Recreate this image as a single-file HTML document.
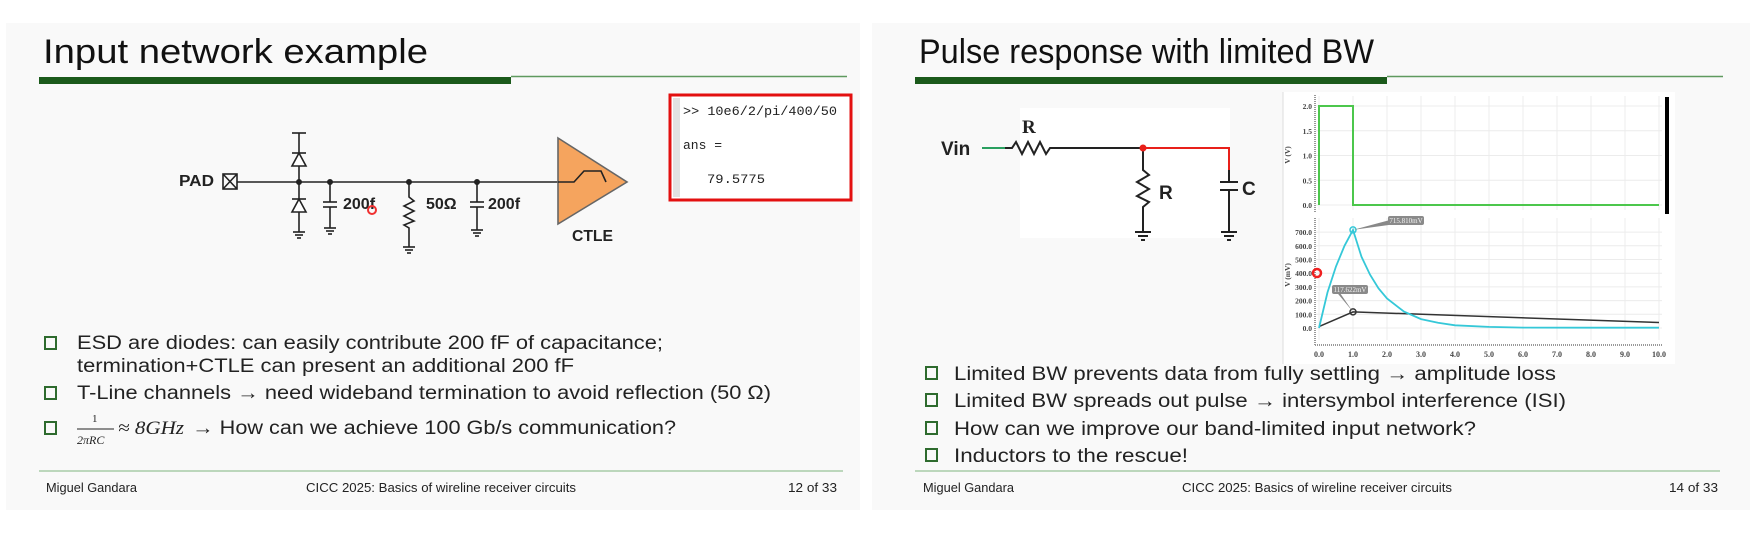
<!DOCTYPE html>
<html><head><meta charset="utf-8"><style>
html,body{margin:0;padding:0;background:#fff;}
svg{display:block;font-family:"Liberation Sans",sans-serif;}
</style></head><body>
<svg id="root" width="1754" height="552" viewBox="0 0 1754 552" xmlns="http://www.w3.org/2000/svg">
<rect x="6" y="23" width="854" height="487" fill="#f9f9f9"/>
<rect x="872" y="23" width="878" height="487" fill="#f9f9f9"/>

<!-- LEFT SLIDE -->
<text x="43" y="63" font-size="34" fill="#111" textLength="385" lengthAdjust="spacingAndGlyphs">Input network example</text>
<rect x="39" y="77" width="472" height="7" fill="#1b5a1b"/>
<line x1="511" y1="76.5" x2="847" y2="76.5" stroke="#5f9a5f" stroke-width="1.5"/>

<g>
<rect x="670" y="95" width="181" height="105" fill="#fff" stroke="#e31010" stroke-width="3"/>
<rect x="673" y="98" width="7" height="99" fill="#e2e2e2"/>
<g font-family="'Liberation Mono',monospace" font-size="13" fill="#222">
<text x="683" y="115" textLength="154" lengthAdjust="spacingAndGlyphs">&gt;&gt; 10e6/2/pi/400/50</text>
<text x="683" y="149">ans =</text>
<text x="707" y="183" textLength="58" lengthAdjust="spacingAndGlyphs">79.5775</text>
</g></g>

<g stroke="#222" stroke-width="1.6" fill="none">
<text x="179" y="186" font-size="16" font-weight="bold" fill="#222" stroke="none" textLength="35" lengthAdjust="spacingAndGlyphs">PAD</text>
<rect x="223" y="174" width="14" height="15"/>
<line x1="223" y1="174" x2="237" y2="189"/><line x1="237" y1="174" x2="223" y2="189"/>
<line x1="237" y1="182" x2="574" y2="182"/>
<line x1="292" y1="133" x2="306" y2="133"/>
<line x1="299" y1="133" x2="299" y2="232"/>
<line x1="292" y1="153" x2="306" y2="153"/>
<polygon points="299,153 292,166 306,166" fill="#fff"/>
<line x1="292" y1="199" x2="306" y2="199"/>
<polygon points="299,199 292,212 306,212" fill="#fff"/>
<line x1="293" y1="232" x2="305" y2="232"/><line x1="295" y1="235" x2="303" y2="235"/><line x1="297" y1="238" x2="301" y2="238"/>
<line x1="330" y1="182" x2="330" y2="202"/><line x1="323" y1="202" x2="337" y2="202"/><line x1="323" y1="207" x2="337" y2="207"/><line x1="330" y1="207" x2="330" y2="228"/>
<line x1="324" y1="228" x2="336" y2="228"/><line x1="326" y1="231" x2="334" y2="231"/><line x1="328" y1="234" x2="332" y2="234"/>
<text x="343" y="209" font-size="16" font-weight="bold" fill="#222" stroke="none">200f</text>
<polyline points="409,182 409,197 414,201 404,206 414,211 404,216 414,221 404,225 409,228 409,247"/>
<line x1="403" y1="247" x2="415" y2="247"/><line x1="405" y1="250" x2="413" y2="250"/><line x1="407" y1="253" x2="411" y2="253"/>
<text x="426" y="209" font-size="16" font-weight="bold" fill="#222" stroke="none">50Ω</text>
<line x1="477" y1="182" x2="477" y2="202"/><line x1="470" y1="202" x2="484" y2="202"/><line x1="470" y1="207" x2="484" y2="207"/><line x1="477" y1="207" x2="477" y2="230"/>
<line x1="471" y1="230" x2="483" y2="230"/><line x1="473" y1="233" x2="481" y2="233"/><line x1="475" y1="236" x2="479" y2="236"/>
<text x="488" y="209" font-size="16" font-weight="bold" fill="#222" stroke="none">200f</text>
<circle cx="299" cy="182" r="2.2" fill="#222"/><circle cx="330" cy="182" r="2.2" fill="#222"/><circle cx="409" cy="182" r="2.2" fill="#222"/><circle cx="477" cy="182" r="2.2" fill="#222"/>
<polygon points="558,138 627,182 558,224" fill="#f5a45e" stroke="#666"/>
<polyline points="558,182 574,182 584,171 601,171 606,182"/>
<text x="572" y="241" font-size="16" font-weight="bold" fill="#222" stroke="none" textLength="41" lengthAdjust="spacingAndGlyphs">CTLE</text>
</g>
<circle cx="372" cy="210" r="4" fill="none" stroke="#f03030" stroke-width="2"/>

<g font-size="19" fill="#222">
<rect x="45" y="337" width="11" height="12" fill="none" stroke="#2e6b2e" stroke-width="2"/>
<text x="77" y="349" textLength="586" lengthAdjust="spacingAndGlyphs">ESD are diodes: can easily contribute 200 fF of capacitance;</text>
<text x="77" y="372" textLength="497" lengthAdjust="spacingAndGlyphs">termination+CTLE can present an additional 200 fF</text>
<rect x="45" y="387" width="11" height="12" fill="none" stroke="#2e6b2e" stroke-width="2"/>
<text x="77" y="399" textLength="694" lengthAdjust="spacingAndGlyphs">T-Line channels → need wideband termination to avoid reflection (50 Ω)</text>
<rect x="45" y="422" width="11" height="12" fill="none" stroke="#2e6b2e" stroke-width="2"/>
<text x="92" y="422" font-size="11" font-family="'Liberation Serif',serif">1</text>
<line x1="77" y1="429" x2="114" y2="429" stroke="#222" stroke-width="1"/>
<text x="77" y="444" font-size="12" font-style="italic" font-family="'Liberation Serif',serif">2πRC</text>
<text x="118" y="434" font-size="19" font-style="italic" font-family="'Liberation Serif',serif" textLength="66" lengthAdjust="spacingAndGlyphs">≈ 8GHz</text>
<text x="192" y="434" textLength="484" lengthAdjust="spacingAndGlyphs">→ How can we achieve 100 Gb/s communication?</text>
</g>
<line x1="39" y1="471" x2="843" y2="471" stroke="#a8cca8" stroke-width="1.5"/>
<g font-size="12.5" fill="#222">
<text x="46" y="492" textLength="91" lengthAdjust="spacingAndGlyphs">Miguel Gandara</text>
<text x="306" y="492" textLength="270" lengthAdjust="spacingAndGlyphs">CICC 2025: Basics of wireline receiver circuits</text>
<text x="788" y="492" textLength="49" lengthAdjust="spacingAndGlyphs">12 of 33</text>
</g>

<!-- RIGHT SLIDE -->
<text x="919" y="63" font-size="34" fill="#111" textLength="455" lengthAdjust="spacingAndGlyphs">Pulse response with limited BW</text>
<rect x="915" y="77" width="472" height="7" fill="#1b5a1b"/>
<line x1="1387" y1="76.5" x2="1723" y2="76.5" stroke="#5f9a5f" stroke-width="1.5"/>

<g stroke="#222" stroke-width="2" fill="none">
<rect x="1020" y="108" width="210" height="130" fill="#fff" stroke="none"/>
<text x="941" y="155" font-size="19" font-weight="bold" fill="#222" stroke="none">Vin</text>
<line x1="982" y1="148" x2="1005" y2="148" stroke="#2aa060"/>
<polyline points="1005,148 1012,148 1016,142 1022,154 1028,142 1034,154 1040,142 1046,154 1050,148 1143,148"/>
<text x="1022" y="133" font-size="19" font-weight="bold" font-family="'Liberation Serif',serif" fill="#222" stroke="none">R</text>
<polyline points="1143,148 1229,148 1229,170" stroke="#e8201a"/>
<polyline points="1143,148 1143,170 1149,175 1137,182 1149,189 1137,196 1149,202 1143,207 1143,232"/>
<line x1="1135" y1="232" x2="1151" y2="232"/><line x1="1138" y1="236" x2="1148" y2="236"/><line x1="1141" y1="240" x2="1145" y2="240"/>
<text x="1159" y="199" font-size="19" font-weight="bold" fill="#222" stroke="none">R</text>
<line x1="1229" y1="170" x2="1229" y2="182"/><line x1="1220" y1="182" x2="1238" y2="182"/><line x1="1220" y1="190" x2="1238" y2="190"/><line x1="1229" y1="190" x2="1229" y2="232"/>
<line x1="1221" y1="232" x2="1237" y2="232"/><line x1="1224" y1="236" x2="1234" y2="236"/><line x1="1227" y1="240" x2="1231" y2="240"/>
<text x="1242" y="195" font-size="19" font-weight="bold" fill="#222" stroke="none">C</text>
<circle cx="1143" cy="148" r="3.5" fill="#e8201a" stroke="none"/>
</g>

<rect x="1283" y="92" width="392" height="272" fill="#fff"/>
<line x1="1283" y1="92" x2="1283" y2="364" stroke="#ddd"/>
<g id="charts"></g>

<g font-size="19" fill="#222">
<rect x="926" y="367" width="11" height="12" fill="none" stroke="#2e6b2e" stroke-width="2"/>
<text x="954" y="380" textLength="602" lengthAdjust="spacingAndGlyphs">Limited BW prevents data from fully settling → amplitude loss</text>
<rect x="926" y="394" width="11" height="12" fill="none" stroke="#2e6b2e" stroke-width="2"/>
<text x="954" y="407" textLength="612" lengthAdjust="spacingAndGlyphs">Limited BW spreads out pulse → intersymbol interference (ISI)</text>
<rect x="926" y="422" width="11" height="12" fill="none" stroke="#2e6b2e" stroke-width="2"/>
<text x="954" y="435" textLength="522" lengthAdjust="spacingAndGlyphs">How can we improve our band-limited input network?</text>
<rect x="926" y="449" width="11" height="12" fill="none" stroke="#2e6b2e" stroke-width="2"/>
<text x="954" y="462" textLength="234" lengthAdjust="spacingAndGlyphs">Inductors to the rescue!</text>
</g>
<line x1="915" y1="471" x2="1720" y2="471" stroke="#a8cca8" stroke-width="1.5"/>
<g font-size="12.5" fill="#222">
<text x="923" y="492" textLength="91" lengthAdjust="spacingAndGlyphs">Miguel Gandara</text>
<text x="1182" y="492" textLength="270" lengthAdjust="spacingAndGlyphs">CICC 2025: Basics of wireline receiver circuits</text>
<text x="1669" y="492" textLength="49" lengthAdjust="spacingAndGlyphs">14 of 33</text>
</g>
</svg>
<script>
const xTicks = [0,1,2,3,4,5,6,7,8,9,10];
const topTicks = [0,0.5,1.0,1.5,2.0];
const botTicks = [0,100,200,300,400,500,600,700];
const inputT = [0,0,1,1,10];
const inputV = [0,2,2,0,0];
const outT = [0,0.25,0.5,0.75,1,1.25,1.5,1.75,2,2.5,3,3.5,4,5,6,8,10];
const outMv = [0,260,450,600,715.8,520,390,290,215,120,65,38,20,8,3,2,2];
const isiT = [0,1,10];
const isiMv = [10,117.6,40];
const peakLabels = ["715.810mV","117.622mV"];

const NS="http://www.w3.org/2000/svg";
const g=document.getElementById('charts');
const xS=t=>1319+t*34;
const yTop=v=>205-v*49.5;
const yBot=v=>328-v*0.137;
function mk(tag,attrs,parent){const e=document.createElementNS(NS,tag);for(const k in attrs)e.setAttribute(k,attrs[k]);(parent||g).appendChild(e);return e;}

xTicks.forEach(t=>{
  const l1=mk('line',{x1:xS(t),y1:96,x2:xS(t),y2:210,stroke:'#ececec'});
  
  
  const l2=mk('line',{x1:xS(t),y1:218,x2:xS(t),y2:340,stroke:'#ececec'});
  
  
  const tx=mk('text',{x:xS(t),y:357,'font-size':8,'font-family':"'Liberation Serif',serif",'font-weight':'bold','text-anchor':'middle',fill:'#444'});
  tx.textContent=t.toFixed(1);
  
  
});
topTicks.forEach(v=>{
  const l=mk('line',{x1:1316,y1:yTop(v),x2:1662,y2:yTop(v),stroke:'#ececec'});
  
  
  const tx=mk('text',{x:1312,y:yTop(v)+3,'font-size':7.5,'font-family':"'Liberation Serif',serif",'font-weight':'bold','text-anchor':'end',fill:'#444'});
  tx.textContent=v.toFixed(1);
  
  
});
botTicks.forEach(v=>{
  const l=mk('line',{x1:1316,y1:yBot(v),x2:1662,y2:yBot(v),stroke:'#ececec'});
  
  
  const tx=mk('text',{x:1312,y:yBot(v)+3,'font-size':7.5,'font-family':"'Liberation Serif',serif",'font-weight':'bold','text-anchor':'end',fill:'#444'});
  tx.textContent=v.toFixed(1);
  
  
});
const a1=mk('line',{x1:1315,y1:95,x2:1315,y2:212,stroke:'#999','stroke-dasharray':'1 1','stroke-width':2});


const a2=mk('line',{x1:1315,y1:218,x2:1315,y2:345,stroke:'#999','stroke-dasharray':'1 1','stroke-width':2});


const a3=mk('line',{x1:1315,y1:345,x2:1662,y2:345,stroke:'#999','stroke-dasharray':'1 1','stroke-width':2});


const yl1=mk('text',{x:0,y:0,'font-size':7.5,'font-family':"'Liberation Serif',serif",'font-weight':'bold',fill:'#444','text-anchor':'middle',transform:'translate(1290,155) rotate(-90)'});
yl1.textContent='V (V)';


const yl2=mk('text',{x:0,y:0,'font-size':7.5,'font-family':"'Liberation Serif',serif",'font-weight':'bold',fill:'#444','text-anchor':'middle',transform:'translate(1290,275) rotate(-90)'});
yl2.textContent='V (mV)';



function path(ts,vs,ys){return ts.map((t,i)=>(i?'L':'M')+xS(t).toFixed(1)+','+ys(vs[i]).toFixed(1)).join(' ');}
const p1=mk('path',{d:path(inputT,inputV,yTop),fill:'none',stroke:'#4cc74c','stroke-width':2});


const bar=mk('line',{x1:1667,y1:97,x2:1667,y2:214,stroke:'#000','stroke-width':4});



const p3=mk('path',{d:path(isiT,isiMv,yBot),fill:'none',stroke:'#333','stroke-width':1.5});


const p2=mk('path',{d:path(outT,outMv,yBot),fill:'none',stroke:'#35c8d8','stroke-width':1.8});



const mks=[[outT[4],outMv[4],'#35c8d8',1388,216],[isiT[1],isiMv[1],'#333',1332,285]];
mks.forEach((m,i)=>{
  const c=mk('circle',{cx:xS(m[0]),cy:yBot(m[1]),r:3,fill:'none',stroke:m[2],'stroke-width':1.5});
  
  
  const pt=mk('polygon',{points:`${xS(m[0])},${yBot(m[1])} ${m[3]+2},${m[4]+4} ${m[3]+8},${m[4]+8}`,fill:'#888'});
  
  
  const r=mk('rect',{x:m[3],y:m[4],width:36,height:9,rx:2,fill:'#8a8a8a'});
  
  
  const t=mk('text',{x:m[3]+18,y:m[4]+7,'font-size':7,'font-family':"'Liberation Serif',serif",'text-anchor':'middle',fill:'#f4f4f4'});
  t.textContent=peakLabels[i];
  
  
});
const cur=mk('circle',{cx:1317,cy:273,r:4,fill:'none',stroke:'#f02020','stroke-width':2.5});


</script>
</body></html>
